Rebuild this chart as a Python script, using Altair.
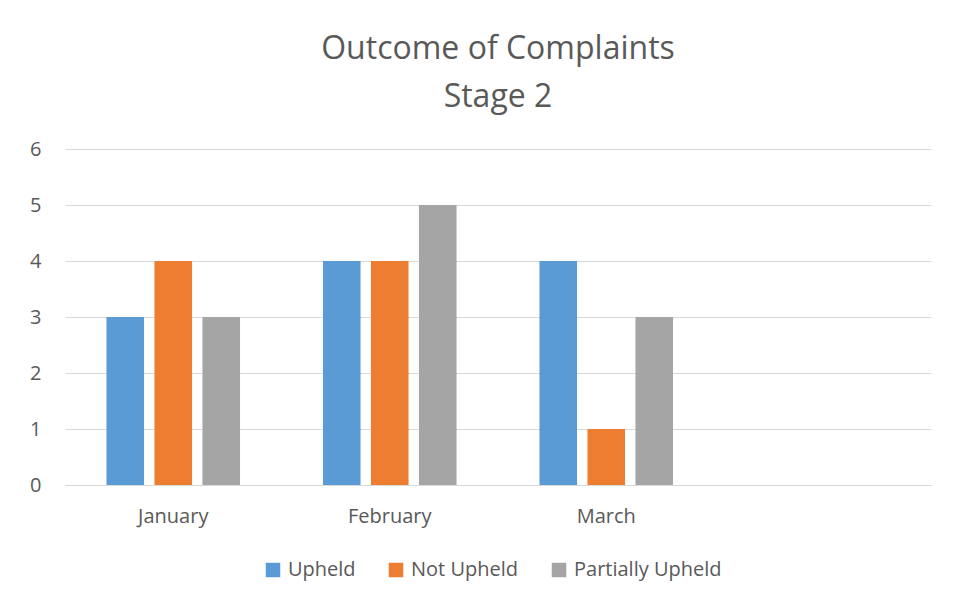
import altair as alt
import pandas as pd

months = ["January", "February", "March"]
series = ["Upheld", "Not Upheld", "Partially Upheld"]
upheld = [3, 4, 4]
not_upheld = [4, 4, 1]
partially = [3, 5, 3]
colors = ["#5B9BD5", "#ED7D31", "#A5A5A5"]
domain_x = months + [""]

rows = []
for i, m in enumerate(months):
    for s, vals in zip(series, [upheld, not_upheld, partially]):
        rows.append({"Month": m, "Outcome": s, "Count": vals[i]})
df = pd.DataFrame(rows)

FONT = "Open Sans"
TXT = "#595959"

chart = alt.Chart(df).mark_bar().encode(
    x=alt.X("Month:N", sort=domain_x,
            scale=alt.Scale(domain=domain_x, paddingInner=0.383, paddingOuter=0.1915),
            axis=alt.Axis(title=None, labelAngle=0, ticks=False, domain=True,
                          domainColor="#d9d9d9", labelFontSize=20, labelColor=TXT,
                          labelFont=FONT, labelPadding=21, grid=False)),
    xOffset=alt.XOffset("Outcome:N", sort=series,
                        scale=alt.Scale(domain=series, paddingInner=0.217, paddingOuter=0)),
    y=alt.Y("Count:Q", scale=alt.Scale(domain=[0, 6]),
            axis=alt.Axis(title=None, values=[0, 1, 2, 3, 4, 5, 6], ticks=False, domain=False,
                          gridColor="#d9d9d9", labelFontSize=20, labelColor=TXT,
                          labelFont=FONT, labelPadding=24)),
    color=alt.Color("Outcome:N", sort=series,
                    scale=alt.Scale(domain=series, range=colors),
                    legend=alt.Legend(title=None, orient="none", direction="horizontal",
                                      legendX=198, legendY=411,
                                      symbolType="square", symbolSize=210, symbolStrokeWidth=0,
                                      labelFontSize=20, labelColor=TXT, labelFont=FONT,
                                      columnPadding=30, labelOffset=5)),
).properties(
    width=866,
    height=336,
    background="white",
    title=alt.TitleParams(["Outcome of Complaints", "Stage 2"], fontSize=32, font=FONT,
                          fontWeight="normal", color=TXT, lineHeight=48, offset=25,
                          anchor="middle"),
    padding={"left": 21, "top": 25, "right": 5, "bottom": 5},
).configure_view(strokeWidth=0, stroke=None)

chart.save("out.html", embed_options={"renderer": "svg", "actions": False})
